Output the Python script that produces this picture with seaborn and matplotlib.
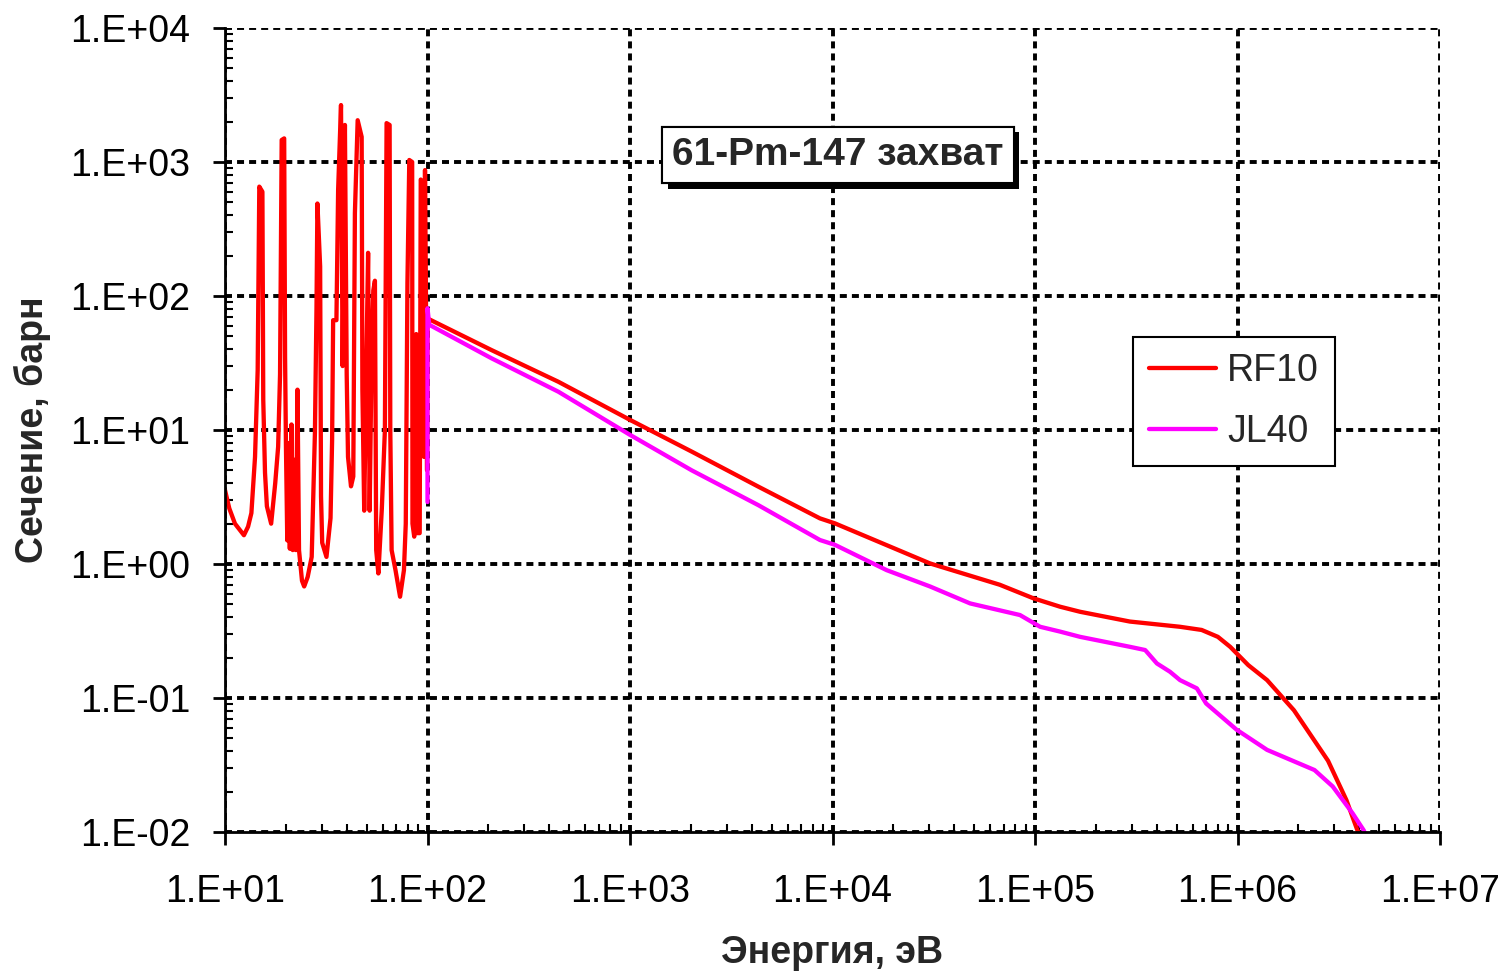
import numpy as np
import pandas as pd
import matplotlib
matplotlib.use("Agg")
import matplotlib.pyplot as plt
import matplotlib.ticker as mticker
import matplotlib.patheffects as pe
from matplotlib.lines import Line2D
import seaborn as sns

# ---------------- data ----------------
rf10_energy = [
    10, 10.5, 11.2, 12.4, 13.0, 13.5, 14.07, 14.5, 14.77, 15.3, 15.45, 15.76, 16.1, 16.9,
    17.7, 18.3, 18.7, 19.05, 19.6, 19.8, 20.0, 20.3, 20.6, 20.9, 21.3, 21.6, 22.0, 22.4,
    22.8, 23.2, 24.0, 24.6, 25.6, 26.8, 27.8, 28.3, 28.6, 29.5, 29.8, 30.2, 31.7, 33.2,
    33.8, 34.2, 35.5, 36.2, 37.4, 38.1, 39.1, 39.9, 40.5, 41.9, 43.0, 43.8, 45.2, 47.3,
    47.7, 48.7, 49.5, 50.9, 51.8, 53.0, 54.0, 55.0, 55.8, 57.2, 59.5, 61.6, 62.8, 65.0,
    65.5, 66.5, 69.5, 73.2, 76.5, 78.1, 79.6, 81.3, 84.0, 84.3, 86.0, 88.0, 89.0, 91.5,
    92.6, 95.0, 96.0, 97.2, 98.2, 99.5, 100.0,
    207, 443, 1000, 2017, 4300, 8670, 10280, 30300, 67000, 98100, 1.33e5, 1.67e5,
    2.94e5, 5.2e5, 6.65e5, 8.0e5, 9.2e5, 1.13e6, 1.4e6, 1.9e6, 2.8e6, 3.45e6, 3.9e6, 4.3e6,
]
rf10_sigma = [
    3.56, 2.6, 2.0, 1.64, 1.9, 2.4, 6.3, 28, 655, 600, 16.8, 4.8, 2.7, 2.0,
    4.0, 7.5, 26, 1460, 1500, 35, 7.5, 1.5, 8, 1.3, 11, 1.27, 6, 1.27,
    20, 1.27, 0.75, 0.68, 0.8, 1.13, 9.5, 80, 490, 166, 3.2, 1.44, 1.13, 2.2,
    8.4, 66, 66, 620, 2660, 30, 1890, 26, 6.3, 3.8, 4.5, 415, 2050, 1540,
    20, 2.5, 14, 210, 2.5, 40, 110, 130, 1.27, 0.85, 2.6, 10, 1950, 1890,
    10, 1.27, 0.9, 0.57, 0.9, 2.0, 125, 1035, 1000, 2.0, 1.6, 52, 1.7, 1.7,
    740, 690, 6.3, 870, 110, 5.0, 68,
    39.5, 22.9, 11.9, 6.9, 3.78, 2.19, 2.01, 1.01, 0.70, 0.555, 0.48, 0.44,
    0.372, 0.34, 0.322, 0.286, 0.241, 0.176, 0.136, 0.081, 0.034, 0.0173, 0.0104, 0.0075,
]

jl40_energy = [
    100, 100, 102, 207, 443, 1000, 2017, 4300, 8670, 10280, 18500, 30300, 47800, 84300,
    1.06e5, 1.33e5, 1.67e5, 2.94e5, 3.5e5, 4.0e5, 4.64e5, 5.2e5, 6.3e5, 7.0e5, 9.9e5,
    1.4e6, 2.4e6, 2.95e6, 3.7e6, 4.2e6, 4.6e6,
]
jl40_sigma = [
    2.9, 81, 61, 34.3, 19.3, 9.2, 5.0, 2.75, 1.51, 1.39, 0.90, 0.68, 0.508, 0.416,
    0.34, 0.313, 0.286, 0.241, 0.228, 0.181, 0.157, 0.136, 0.118, 0.091, 0.058,
    0.041, 0.029, 0.0219, 0.0138, 0.0103, 0.0075,
]

x_tick_values = [1e1, 1e2, 1e3, 1e4, 1e5, 1e6, 1e7]
x_tick_labels = ["1.E+01", "1.E+02", "1.E+03", "1.E+04", "1.E+05", "1.E+06", "1.E+07"]
y_tick_values = [1e-2, 1e-1, 1e0, 1e1, 1e2, 1e3, 1e4]
y_tick_labels = ["1.E-02", "1.E-01", "1.E+00", "1.E+01", "1.E+02", "1.E+03", "1.E+04"]

series_names = ["RF10", "JL40"]
series_colors = ["#ff0000", "#ff00ff"]

title_text = "61-Pm-147 захват"
x_label = "Энергия, эВ"
y_label = "Сечение, барн"

# ---------------- style ----------------
sns.set_style("white")
plt.rcParams["font.family"] = ["Liberation Sans", "DejaVu Sans"]

df = pd.concat([
    pd.DataFrame({"E": rf10_energy, "sigma": rf10_sigma, "series": series_names[0]}),
    pd.DataFrame({"E": jl40_energy, "sigma": jl40_sigma, "series": series_names[1]}),
], ignore_index=True)

fig = plt.figure(figsize=(15.03, 9.73), dpi=100)
ax = fig.add_axes([225 / 1503, 1 - 832 / 973, (1440 - 225) / 1503, (832 - 28) / 973])

LW = 3.1
sns.lineplot(data=df, x="E", y="sigma", hue="series", units="series",
             palette=dict(zip(series_names, series_colors)),
             estimator=None, sort=False, linewidth=LW, ax=ax, legend=False)

ax.set_xscale("log")
ax.set_yscale("log")
ax.set_xlim(1e1, 1e7)
ax.set_ylim(1e-2, 1e4)

ax.set_xticks(x_tick_values)
ax.set_xticklabels(x_tick_labels)
ax.set_yticks(y_tick_values)
ax.set_yticklabels(y_tick_labels)
ax.xaxis.set_minor_locator(mticker.LogLocator(base=10, subs=np.arange(2, 10), numticks=20))
ax.yaxis.set_minor_locator(mticker.LogLocator(base=10, subs=np.arange(2, 10), numticks=20))
ax.xaxis.set_minor_formatter(mticker.NullFormatter())
ax.yaxis.set_minor_formatter(mticker.NullFormatter())

ax.tick_params(axis="both", which="major", direction="out", length=9, width=2,
               labelsize=27, color="black", labelcolor="black")
ax.tick_params(axis="x", which="major", pad=21)
ax.tick_params(axis="y", which="major", pad=16)
ax.tick_params(axis="both", which="minor", direction="in", length=6, width=1.5, color="black")
ax.tick_params(bottom=True, left=True, top=False, right=False, which="both")

ax.grid(True, which="major", color="black", linestyle=(0, (1.8, 1.3)), linewidth=2.8)
ax.set_axisbelow(True)
for s in ["top", "right"]:
    ax.spines[s].set_visible(False)
for s in ["left", "bottom"]:
    ax.spines[s].set_color("black")
    ax.spines[s].set_linewidth(2)

ax.set_xlabel(x_label, fontsize=27, fontweight="bold", labelpad=18)
ax.set_ylabel(y_label, fontsize=27, fontweight="bold", labelpad=14)

t = ax.text(0.5045, 0.842, title_text, transform=ax.transAxes, ha="center", va="center",
            fontsize=28, fontweight="bold", zorder=5,
            bbox=dict(boxstyle="square,pad=0.26", facecolor="white", edgecolor="black", linewidth=1.5))
t.get_bbox_patch().set_path_effects([
    pe.withSimplePatchShadow(offset=(4, -4), shadow_rgbFace="black", alpha=1.0),
    pe.Normal(),
])

handles = [Line2D([0], [0], color=c, lw=LW) for c in series_colors]
leg = ax.legend(handles, series_names, loc="upper right",
                bbox_to_anchor=((1335 - 225) / 1215, (832 - 337) / 804),
                borderaxespad=0, fontsize=27, frameon=True, fancybox=False,
                edgecolor="black", framealpha=1, handlelength=1.8, handletextpad=0.3,
                borderpad=0.42, labelspacing=0.68)
leg.get_frame().set_linewidth(1.5)

fig.savefig("out.png", dpi=100)
